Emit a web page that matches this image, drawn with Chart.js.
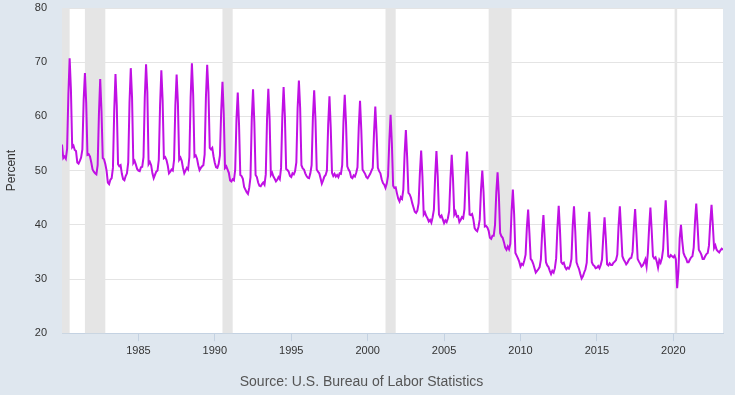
<!DOCTYPE html>
<html>
<head>
<meta charset="utf-8">
<script src="https://cdn.jsdelivr.net/npm/chart.js@4"></script>
<style>
  html, body { margin: 0; padding: 0; background: #dfe7ef; }
  #wrap { width: 735px; height: 395px; }
</style>
</head>
<body>
<div id="wrap"><canvas id="chart"></canvas></div>
<script>
// Monthly values, January 1980 onward (percent, not seasonally adjusted)
const startYear = 1980;
const rate = [
  54.8, 52.3, 52.6, 52.2, 54.0, 64.0, 70.7, 65.0, 54.3, 54.6, 53.8, 53.6, // 1980
  51.5, 51.3, 51.8, 52.4, 53.9, 63.0, 68.0, 62.5, 52.9, 53.0, 52.6, 51.5, // 1981
  50.2, 49.8, 49.5, 49.3, 51.0, 60.5, 66.9, 61.0, 52.3, 52.1, 51.2, 50.0, // 1982
  47.8, 47.5, 48.3, 48.6, 50.5, 61.0, 67.8, 62.0, 51.2, 50.8, 51.0, 49.4, // 1983
  48.4, 48.2, 49.0, 49.5, 51.5, 62.5, 68.9, 63.5, 51.4, 51.8, 51.1, 50.3, // 1984
  50.0, 49.9, 50.6, 50.7, 52.5, 63.5, 69.6, 64.5, 51.2, 51.6, 51.0, 49.5, // 1985
  48.6, 49.2, 49.8, 50.0, 52.0, 62.0, 68.5, 63.0, 52.3, 52.5, 52.0, 51.0, // 1986
  49.5, 49.8, 50.2, 50.0, 52.0, 62.0, 67.7, 62.5, 52.0, 52.4, 51.8, 50.5, // 1987
  49.5, 50.0, 50.5, 50.2, 52.5, 63.5, 69.8, 64.0, 52.6, 52.8, 52.2, 51.0, // 1988
  50.1, 50.5, 50.8, 51.0, 53.0, 63.5, 69.5, 64.5, 54.2, 53.9, 54.2, 52.6, // 1989
  51.4, 50.6, 50.5, 51.2, 52.8, 61.0, 66.4, 60.5, 50.5, 50.8, 50.2, 49.6, // 1990
  48.2, 48.0, 48.4, 48.2, 50.2, 59.5, 64.4, 58.5, 49.2, 49.0, 48.5, 47.0, // 1991
  46.5, 46.0, 45.7, 46.8, 48.8, 59.5, 65.0, 59.0, 49.2, 48.8, 47.8, 47.2, // 1992
  47.1, 47.5, 47.8, 47.4, 49.3, 59.5, 65.1, 59.5, 49.2, 49.6, 48.9, 48.5, // 1993
  48.0, 48.3, 48.8, 48.4, 50.5, 60.0, 65.4, 60.0, 50.3, 50.1, 49.8, 49.0, // 1994
  48.8, 49.5, 49.3, 49.9, 51.5, 61.5, 66.6, 61.5, 51.0, 50.4, 50.2, 49.5, // 1995
  49.0, 48.7, 48.6, 49.5, 51.0, 59.8, 64.8, 59.5, 50.2, 49.8, 49.5, 48.6, // 1996
  47.6, 48.2, 48.9, 49.2, 50.0, 58.5, 63.7, 58.0, 49.6, 49.0, 49.4, 48.9, // 1997
  49.2, 48.8, 49.5, 49.4, 51.0, 59.0, 64.0, 58.8, 50.8, 50.2, 49.8, 48.8, // 1998
  48.6, 49.1, 48.9, 49.6, 50.6, 58.0, 62.9, 57.5, 50.2, 49.8, 49.4, 48.8, // 1999
  48.6, 49.0, 49.4, 50.0, 50.5, 57.0, 61.8, 56.8, 50.5, 49.9, 49.5, 48.4, // 2000
  47.7, 47.4, 46.8, 47.6, 49.0, 55.5, 60.3, 55.0, 47.2, 46.8, 46.9, 45.8, // 2001
  44.8, 44.3, 45.1, 44.8, 46.5, 53.0, 57.5, 52.5, 45.9, 45.6, 45.0, 44.0, // 2002
  43.2, 42.4, 42.2, 42.6, 44.0, 49.5, 53.7, 49.0, 41.9, 42.3, 41.6, 41.2, // 2003
  40.6, 40.9, 40.4, 41.4, 42.8, 49.0, 53.6, 49.0, 41.9, 41.4, 41.7, 41.0, // 2004
  40.3, 40.8, 40.5, 41.2, 42.5, 48.5, 52.9, 48.5, 41.9, 42.4, 41.5, 41.6, // 2005
  40.5, 40.9, 41.4, 41.2, 42.9, 49.0, 53.5, 49.0, 41.9, 41.8, 42.0, 41.0, // 2006
  39.4, 39.0, 38.8, 39.6, 41.0, 46.5, 50.0, 46.0, 39.7, 39.8, 39.5, 38.9, // 2007
  37.6, 37.4, 38.0, 38.0, 40.0, 46.0, 49.7, 45.5, 38.5, 37.9, 37.6, 36.8, // 2008
  35.8, 35.4, 36.0, 35.5, 36.5, 42.5, 46.5, 42.0, 34.8, 34.3, 33.8, 33.2, // 2009
  32.3, 32.8, 32.6, 33.4, 34.5, 39.5, 42.8, 38.5, 33.7, 33.4, 32.8, 32.0, // 2010
  31.2, 31.5, 31.8, 32.2, 33.6, 38.5, 41.8, 37.5, 33.1, 32.5, 32.2, 31.5, // 2011
  30.9, 31.5, 31.2, 32.0, 33.8, 39.5, 43.5, 39.0, 33.1, 32.8, 33.0, 32.2, // 2012
  31.8, 32.1, 31.9, 32.5, 33.7, 39.8, 43.4, 38.8, 33.1, 32.4, 31.8, 30.9, // 2013
  30.1, 30.5, 31.2, 31.8, 33.0, 38.8, 42.4, 38.0, 33.1, 32.6, 32.4, 32.0, // 2014
  32.1, 32.4, 32.0, 32.6, 33.6, 37.8, 41.4, 37.5, 32.7, 32.5, 32.9, 32.6, // 2015
  32.6, 33.0, 33.2, 33.5, 34.5, 39.8, 43.4, 39.0, 34.2, 33.6, 33.2, 32.7, // 2016
  33.0, 33.5, 33.8, 33.9, 35.0, 39.5, 42.9, 38.5, 33.7, 33.2, 32.8, 32.3, // 2017
  32.5, 33.0, 33.6, 32.3, 34.8, 39.5, 43.2, 39.0, 34.2, 33.8, 34.0, 33.2, // 2018
  32.1, 33.5, 33.0, 33.8, 35.5, 40.5, 44.5, 40.0, 34.2, 34.0, 34.4, 34.2, // 2019
  34.0, 34.3, 33.6, 28.3, 31.5, 37.5, 40.0, 37.0, 34.8, 34.2, 33.8, 33.1, // 2020
  33.1, 33.6, 34.0, 34.2, 35.8, 40.5, 43.9, 40.0, 35.4, 35.0, 34.5, 33.7, // 2021
  33.7, 34.2, 34.6, 34.8, 36.2, 40.5, 43.7, 40.0, 35.7, 36.2, 35.4, 35.1, // 2022
  34.9, 35.3, 35.6, 35.4                                                  // 2023
];

// Recession periods [start year, start month, end year, end month]
const recessions = [
  [1980, 1, 1980, 7],
  [1981, 7, 1982, 11],
  [1990, 7, 1991, 3],
  [2001, 3, 2001, 11],
  [2007, 12, 2009, 6],
  [2020, 2, 2020, 4]
];

const xTickYears = [1985, 1990, 1995, 2000, 2005, 2010, 2015, 2020];
const yTicks = [20, 30, 40, 50, 60, 70, 80];

const points = rate.map((v, i) => ({ x: startYear + i / 12, y: v }));
const lastX = startYear + (rate.length - 1) / 12;

// white plot area + grey recession bars
const backdrop = {
  id: 'backdrop',
  beforeDraw(chart) {
    const { ctx, chartArea: a } = chart;
    ctx.save();
    ctx.fillStyle = '#ffffff';
    ctx.fillRect(a.left, a.top, a.right - a.left, a.bottom - a.top);
    ctx.restore();
  },
  beforeDatasetsDraw(chart) {
    const { ctx, chartArea: a, scales } = chart;
    ctx.save();
    ctx.fillStyle = '#e5e5e5';
    recessions.forEach(r => {
      const x1 = scales.x.getPixelForValue(r[0] + (r[1] - 1) / 12);
      const x2 = scales.x.getPixelForValue(r[2] + (r[3] - 1) / 12);
      const l = Math.max(x1, a.left), rr = Math.min(x2, a.right);
      ctx.fillRect(l, a.top, rr - l, a.bottom - a.top);
    });
    ctx.restore();
  }
};

Chart.defaults.font.family = '"Liberation Sans", Arial, Helvetica, sans-serif';
Chart.defaults.color = '#333';

new Chart(document.getElementById('chart'), {
  type: 'line',
  data: {
    datasets: [{
      data: points,
      borderColor: 'rgb(192, 16, 228)',
      borderWidth: 2,
      pointRadius: 0,
      tension: 0,
      fill: false
    }]
  },
  options: {
    responsive: true,
    maintainAspectRatio: false,
    animation: false,
    layout: { padding: { top: 8, right: 12, bottom: 4, left: 0 } },
    plugins: {
      legend: { display: false },
      tooltip: { enabled: false },
      title: {
        display: true,
        position: 'bottom',
        text: 'Source: U.S. Bureau of Labor Statistics',
        color: '#555',
        font: { size: 14, weight: 'normal' },
        padding: { top: 12, bottom: 0 }
      }
    },
    scales: {
      x: {
        type: 'linear',
        min: startYear,
        max: lastX,
        afterBuildTicks: s => { s.ticks = xTickYears.map(v => ({ value: v })); },
        afterFit: s => { s.height = 29; s.paddingLeft = 0; s.paddingRight = 0; },
        grid: {
          drawOnChartArea: false,
          drawTicks: true,
          tickLength: 8,
          color: '#c4d2e2'
        },
        border: { display: true, color: '#c4d2e2' },
        ticks: {
          font: { size: 11 },
          color: '#333',
          padding: 3,
          maxRotation: 0,
          callback: v => String(v)
        }
      },
      y: {
        min: 20,
        max: 80,
        afterBuildTicks: s => { s.ticks = yTicks.map(v => ({ value: v })); },
        afterFit: s => { s.width = 62; s.paddingTop = 0; s.paddingBottom = 0; },
        grid: { color: '#e4e4e4', drawTicks: false },
        border: { display: false },
        ticks: { font: { size: 11 }, color: '#333', padding: 15 },
        title: {
          display: true,
          text: 'Percent',
          color: '#333',
          font: { size: 12 },
          padding: { top: 4, bottom: 0 }
        }
      }
    }
  },
  plugins: [backdrop]
});
</script>
</body>
</html>
